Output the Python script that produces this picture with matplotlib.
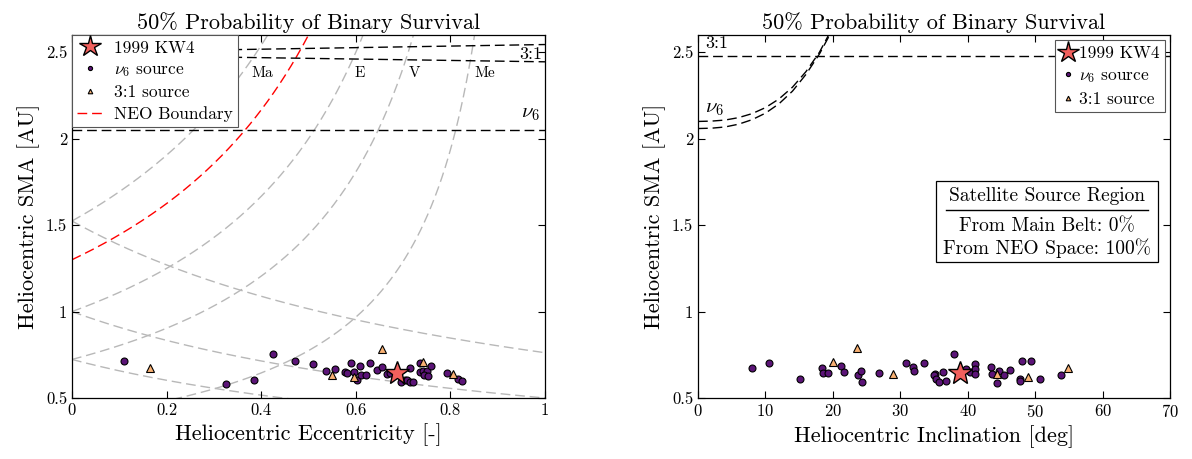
#!/usr/bin/env python3
"""Binary survival plots: SMA vs eccentricity and SMA vs inclination."""

import matplotlib

matplotlib.use("Agg")
import matplotlib.pyplot as plt
import numpy as np
from matplotlib.lines import Line2D
from matplotlib.patches import Rectangle

plt.rcParams["font.family"] = ["cmr10", "DejaVu Serif"]
plt.rcParams["mathtext.fontset"] = "cm"
plt.rcParams["axes.formatter.use_mathtext"] = True
plt.rcParams["axes.unicode_minus"] = False

# 1999 KW4
KW4_E = 0.688
KW4_I = 38.9
KW4_A = 0.643

# nu6-source satellites, eccentricity panel
NU6_E = [0.110, 0.326, 0.384, 0.425, 0.472, 0.510, 0.537, 0.556, 0.578, 0.582,
         0.590, 0.596, 0.603, 0.608, 0.610, 0.621, 0.629, 0.644, 0.655, 0.665,
         0.673, 0.696, 0.703, 0.709, 0.714, 0.715, 0.722, 0.736, 0.735, 0.743,
         0.750, 0.745, 0.752, 0.760, 0.793, 0.817, 0.825]
NU6_E_A = [0.712, 0.583, 0.606, 0.754, 0.714, 0.695, 0.658, 0.669, 0.650, 0.643,
           0.700, 0.652, 0.604, 0.683, 0.631, 0.631, 0.700, 0.664, 0.681, 0.637,
           0.643, 0.594, 0.604, 0.604, 0.672, 0.594, 0.592, 0.700, 0.648, 0.658,
           0.656, 0.633, 0.629, 0.687, 0.646, 0.610, 0.598]

# 3:1-source satellites, eccentricity panel
R31_E = [0.165, 0.550, 0.597, 0.656, 0.743, 0.805]
R31_E_A = [0.672, 0.635, 0.620, 0.785, 0.706, 0.637]

# nu6-source satellites, inclination panel
NU6_I = [7.95, 10.5, 15.1, 18.4, 18.6, 19.2, 21.2, 21.7, 23.7, 24.1,
         24.3, 26.9, 30.8, 31.9, 32.0, 33.5, 35.1, 35.0, 35.3, 35.7,
         36.4, 36.8, 38.0, 39.7, 40.4, 41.1, 41.1, 41.1, 43.4, 43.6,
         44.6, 44.4, 45.4, 46.3, 47.7, 47.7, 48.0, 49.4, 50.7, 53.8]
NU6_I_A = [0.672, 0.704, 0.608, 0.675, 0.646, 0.646, 0.687, 0.652, 0.633, 0.658,
           0.592, 0.643, 0.700, 0.681, 0.654, 0.700, 0.637, 0.631, 0.608, 0.594,
           0.650, 0.598, 0.754, 0.666, 0.650, 0.695, 0.668, 0.640, 0.681, 0.639,
           0.654, 0.585, 0.631, 0.660, 0.608, 0.598, 0.714, 0.712, 0.608, 0.631]

# 3:1-source satellites, inclination panel
R31_I = [20.0, 23.5, 28.9, 44.4, 48.9, 54.8]
R31_I_A = [0.706, 0.787, 0.639, 0.637, 0.623, 0.675]

# planet semi-major axes for the crossing curves
PLANET_NAMES = ["Me", "V", "E", "Ma"]
PLANET_SMA = [0.387, 0.723, 1.0, 1.524]
NEO_Q = 1.3

# resonance boundaries, eccentricity panel
R31_UPPER_E = [0.0, 1.0]
R31_UPPER_A = [2.500, 2.545]
R31_LOWER_E = [0.0, 1.0]
R31_LOWER_A = [2.485, 2.445]
NU6_LINE_A = 2.05

# resonance boundaries, inclination panel
R31_LINE_A_INC = 2.48
NU6_UPPER_I = [0.0, 2.0, 4.0, 6.0, 8.0, 10.0, 12.0, 14.0, 16.0, 18.0, 19.5]
NU6_UPPER_A = [2.100, 2.102, 2.108, 2.122, 2.145, 2.180, 2.230, 2.298, 2.388, 2.500, 2.610]
NU6_LOWER_I = [0.0, 2.0, 4.0, 6.0, 8.0, 10.0, 12.0, 14.0, 16.0, 18.0, 19.8]
NU6_LOWER_A = [2.059, 2.061, 2.068, 2.084, 2.110, 2.148, 2.202, 2.275, 2.372, 2.490, 2.620]

PURPLE = "#5b1477"
ORANGE = "#f9b173"
CORAL = "#f1605d"
GRAY = "#b8b8b8"
DASH = (7, 3.5)


def style_axes(ax):
    ax.tick_params(direction="in", top=True, right=True, labelsize=12, length=5, width=0.8)
    for spine in ax.spines.values():
        spine.set_linewidth(0.9)
    ax.set_ylim(0.5, 2.6)
    ax.set_yticks([0.5, 1, 1.5, 2, 2.5])
    ax.set_yticklabels(["0.5", "1", "1.5", "2", "2.5"])
    ax.set_ylabel("Heliocentric SMA [AU]", fontsize=16)
    ax.set_title("50% Probability of Binary Survival", fontsize=16, pad=4)


def scatter_sources(ax, x_nu6, a_nu6, x_31, a_31, x_kw4):
    ax.plot(x_nu6, a_nu6, "o", ms=5, mfc=PURPLE, mec="black", mew=0.8,
            label=r"$\nu_6$ source", zorder=4)
    ax.plot(x_31, a_31, "^", ms=5.5, mfc=ORANGE, mec="black", mew=0.8,
            label="3:1 source", zorder=4)
    ax.plot([x_kw4], [KW4_A], "*", ms=18, mfc=CORAL, mec="black", mew=1.0,
            label="1999 KW4", zorder=5)


fig = plt.figure(figsize=(11.92, 4.59), dpi=100)
ax1 = fig.add_axes([0.0604, 0.1329, 0.3968, 0.7908])
ax2 = fig.add_axes([0.5856, 0.1329, 0.3960, 0.7908])

# ---- left: eccentricity ----
e = np.linspace(0, 1, 400)
for name, sma in zip(PLANET_NAMES, PLANET_SMA):
    with np.errstate(divide="ignore"):
        ax1.plot(e, sma / (1 - e), color=GRAY, lw=1.0, dashes=DASH, zorder=1)
    ax1.plot(e, sma / (1 + e), color=GRAY, lw=1.0, dashes=DASH, zorder=1)
    e_lab = 1 - sma / 2.42
    ax1.text(e_lab + 0.01, 2.42, name, fontsize=11, va="top", ha="left")
with np.errstate(divide="ignore"):
    ax1.plot(e, NEO_Q / (1 - e), color="red", lw=1.0, dashes=DASH, zorder=2,
             label="NEO Boundary")
ax1.plot(R31_UPPER_E, R31_UPPER_A, color="black", lw=1.0, dashes=DASH, zorder=2)
ax1.plot(R31_LOWER_E, R31_LOWER_A, color="black", lw=1.0, dashes=DASH, zorder=2)
ax1.axhline(NU6_LINE_A, color="black", lw=1.0, dashes=DASH, zorder=2)
ax1.text(0.995, 2.49, "3:1", fontsize=13, ha="right", va="center")
ax1.text(0.99, 2.09, r"$\nu_6$", fontsize=15, ha="right", va="bottom")

scatter_sources(ax1, NU6_E, NU6_E_A, R31_E, R31_E_A, KW4_E)
ax1.set_xlim(0, 1)
ax1.set_xticks([0, 0.2, 0.4, 0.6, 0.8, 1])
ax1.set_xticklabels(["0", "0.2", "0.4", "0.6", "0.8", "1"])
ax1.set_xlabel("Heliocentric Eccentricity [-]", fontsize=16)
style_axes(ax1)
h, l = ax1.get_legend_handles_labels()
order = [l.index("1999 KW4"), l.index(r"$\nu_6$ source"), l.index("3:1 source"),
         l.index("NEO Boundary")]
leg1 = ax1.legend([h[k] for k in order], [l[k] for k in order], loc="upper left",
                  fontsize=12.5, fancybox=False, framealpha=1, edgecolor="#555555",
                  borderaxespad=0.0, handlelength=1.5, handletextpad=0.6,
                  borderpad=0.3, labelspacing=0.35, markerscale=0.6)
leg1.get_frame().set_linewidth(0.8)
leg1.legend_handles[0].set_markersize(16)

# ---- right: inclination ----
ax2.axhline(R31_LINE_A_INC, color="black", lw=1.0, dashes=DASH, zorder=2)
ax2.plot(NU6_UPPER_I, NU6_UPPER_A, color="black", lw=1.0, dashes=DASH, zorder=2)
ax2.plot(NU6_LOWER_I, NU6_LOWER_A, color="black", lw=1.0, dashes=DASH, zorder=2)
ax2.text(1.0, 2.51, "3:1", fontsize=13, ha="left", va="bottom")
ax2.text(1.0, 2.12, r"$\nu_6$", fontsize=15, ha="left", va="bottom")

scatter_sources(ax2, NU6_I, NU6_I_A, R31_I, R31_I_A, KW4_I)
ax2.set_xlim(0, 70)
ax2.set_xticks(range(0, 71, 10))
ax2.set_xlabel("Heliocentric Inclination [deg]", fontsize=16)
style_axes(ax2)
h, l = ax2.get_legend_handles_labels()
order = [l.index("1999 KW4"), l.index(r"$\nu_6$ source"), l.index("3:1 source")]
leg2 = ax2.legend([h[k] for k in order], [l[k] for k in order], loc="upper right",
                  fontsize=12.5, fancybox=False, framealpha=1, edgecolor="#555555",
                  borderaxespad=0.3, handlelength=0.9, handletextpad=0.2,
                  borderpad=0.3, labelspacing=0.4, markerscale=0.6)
leg2.get_frame().set_linewidth(0.8)
leg2.legend_handles[0].set_markersize(16)

# source-region box
ax2.add_patch(Rectangle((0.504, 0.375), 0.471, 0.223, transform=ax2.transAxes,
                        fc="white", ec="black", lw=0.9, zorder=6))
box_text = dict(transform=ax2.transAxes, ha="center", va="center", fontsize=14, zorder=7)
ax2.text(0.739, 0.556, "Satellite Source Region", **box_text)
ax2.text(0.739, 0.474, "From Main Belt: 0%", **box_text)
ax2.text(0.739, 0.413, "From NEO Space: 100%", **box_text)
ax2.add_line(Line2D([0.526, 0.953], [0.519, 0.519], transform=ax2.transAxes,
                    color="black", lw=1.0, zorder=7))

fig.savefig("out.png", dpi=100)
